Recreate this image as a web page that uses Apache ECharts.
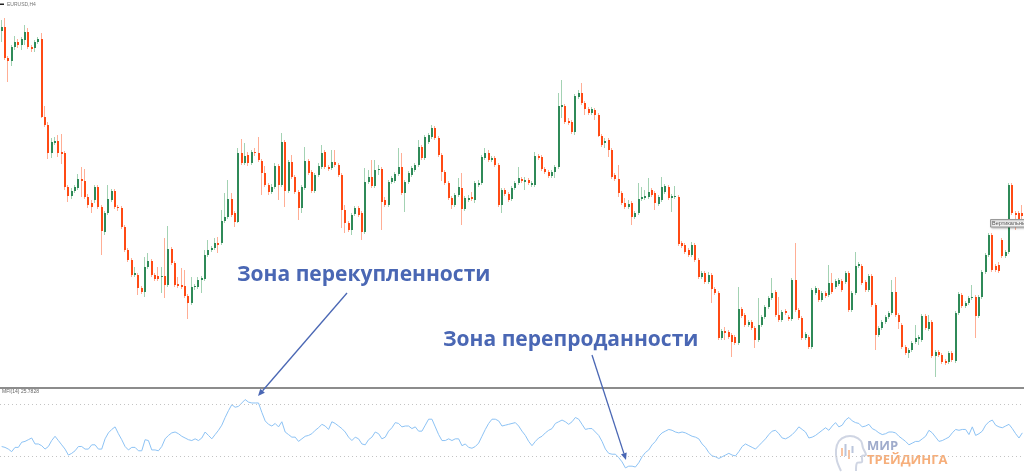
<!DOCTYPE html>
<html><head><meta charset="utf-8">
<script src="https://cdn.jsdelivr.net/npm/echarts@6/dist/echarts.min.js"></script>
<style>html,body{margin:0;padding:0;background:#fff}#c{width:1024px;height:473px}</style>
</head><body><div id="c"></div>
<script>
// EURUSD H4 candles: [open, close, low, high] (price points)
const candles = [
[359,363,348,370],[363,332,330,372],[332,329,308,334],[329,343,324,345],[343,348,340,354],[348,345,342,351],[345,351,340,353],[350,358,345,365],[358,343,341,362],[343,341,338,345],
[342,348,338,350],[348,351,346,353],[351,273,272,357],[273,265,263,284],[265,237,231,268],[237,248,232,252],[247,249,245,253],[249,237,233,255],[238,236,226,256],[237,203,200,239],
[203,194,188,205],[194,199,191,202],[199,203,197,205],[202,211,200,216],[211,209,193,223],[209,193,191,221],[193,185,182,196],[187,183,177,190],[190,203,187,205],[203,183,181,205],
[183,159,135,185],[158,177,155,179],[177,191,175,205],[190,199,188,201],[199,183,181,201],[183,182,179,185],[182,163,161,184],[163,140,138,165],[140,130,128,142],[130,115,113,132],
[115,117,113,123],[115,102,95,117],[102,98,96,104],[98,123,93,133],[123,129,121,137],[129,115,113,131],[115,111,109,117],[114,111,109,123],[113,114,97,123],[114,105,92,152],
[105,141,103,164],[141,127,125,143],[127,105,103,129],[106,104,102,113],[105,103,101,122],[104,94,92,120],[94,87,71,96],[87,103,85,113],[103,104,100,106],[103,110,101,113],
[110,112,97,114],[111,135,109,140],[135,140,133,150],[140,142,138,144],[142,147,140,152],[147,145,137,153],[147,169,145,180],[169,173,167,197],[173,191,171,210],[191,175,173,197],
[177,168,163,179],[168,237,167,242],[237,227,225,251],[227,234,225,247],[235,227,224,238],[227,238,225,240],[238,237,234,242],[237,230,228,253],[229,217,195,231],[217,205,203,224],
[205,198,195,207],[198,203,196,206],[203,224,201,227],[224,205,190,226],[205,248,203,257],[248,199,183,250],[199,228,197,230],[228,213,211,235],[213,198,196,215],[198,182,170,200],
[182,203,177,205],[202,229,200,243],[229,217,215,231],[218,199,197,220],[199,215,197,217],[215,224,213,227],[223,237,221,245],[238,223,221,240],[223,221,219,225],[222,228,220,240],
[228,225,223,240],[225,215,213,227],[215,180,162,217],[180,167,157,185],[167,160,158,169],[160,175,155,177],[176,182,174,184],[182,175,173,184],[177,158,150,179],[158,208,156,222],
[208,213,206,220],[213,204,202,230],[204,220,202,230],[220,221,215,225],[221,188,160,223],[190,185,183,193],[185,208,183,210],[208,212,206,214],[209,216,207,218],[216,223,214,242],
[223,197,195,237],[197,208,178,210],[208,217,206,219],[215,222,213,224],[220,225,218,227],[225,243,223,250],[243,232,230,245],[232,253,230,255],[248,255,246,257],[253,262,251,265],
[262,252,250,264],[252,235,233,254],[235,218,209,237],[218,207,205,220],[207,192,190,209],[192,185,181,194],[185,195,183,197],[195,203,193,212],[202,181,165,217],[181,192,179,194],
[190,192,188,195],[193,191,189,198],[190,207,187,209],[205,207,203,210],[207,233,205,235],[232,237,230,242],[237,230,228,240],[230,232,228,234],[232,225,223,234],[225,185,183,227],
[185,200,177,202],[200,196,194,202],[196,190,188,198],[191,202,189,204],[202,207,200,209],[207,212,205,223],[211,209,207,213],[208,210,200,213],[210,207,205,212],[205,207,203,209],
[205,234,203,238],[234,232,230,236],[233,221,219,235],[221,218,216,223],[218,214,212,220],[214,218,212,220],[218,223,212,225],[223,284,221,297],[283,285,272,310],[284,268,266,286],
[269,267,265,272],[268,258,256,270],[258,294,255,296],[293,297,291,300],[297,287,285,307],[287,281,275,289],[281,277,275,283],[277,281,275,283],[280,275,270,282],[275,254,253,277],
[254,245,243,256],[247,249,242,252],[250,240,233,252],[240,213,211,242],[215,211,209,217],[211,197,193,225],[197,187,185,199],[187,183,181,192],[183,186,181,190],[187,173,165,189],
[173,177,171,179],[177,191,175,207],[191,193,189,203],[192,194,190,200],[193,198,191,212],[200,195,193,202],[197,187,180,199],[186,193,184,195],[190,203,188,213],[198,204,196,206],
[203,192,190,205],[192,194,178,196],[193,194,191,204],[193,146,144,195],[147,144,142,149],[145,138,136,147],[140,135,133,142],[135,145,133,148],[145,130,128,147],[130,113,111,132],
[113,117,111,119],[117,108,106,119],[108,115,106,118],[115,101,87,117],[101,97,95,103],[97,52,50,99],[52,59,50,61],[59,57,50,63],[58,53,51,60],[55,48,33,57],
[53,47,45,55],[47,81,45,103],[81,74,72,83],[75,65,63,77],[65,68,63,70],[68,62,60,70],[62,50,42,64],[50,65,48,92],[65,73,63,75],[73,83,71,85],
[83,92,81,94],[92,97,90,112],[98,75,73,100],[75,70,68,93],[70,78,68,80],[79,77,75,81],[73,71,69,75],[71,110,69,112],[110,80,78,147],[80,72,70,82],
[72,52,50,74],[52,56,50,58],[53,43,41,55],[43,100,41,102],[97,102,95,104],[100,90,88,102],[90,97,88,99],[97,94,92,99],[95,107,93,125],[107,98,96,117],
[103,109,101,111],[106,110,104,112],[109,100,98,111],[108,117,106,119],[117,80,78,119],[80,97,78,99],[97,124,95,138],[124,126,122,128],[124,107,105,126],[108,100,98,110],
[100,114,98,116],[114,85,83,116],[85,55,40,87],[55,62,53,64],[62,68,60,70],[68,73,66,75],[73,77,71,79],[77,98,75,110],[98,75,73,113],[75,68,61,77],
[65,43,41,67],[43,37,35,45],[37,40,32,42],[40,47,38,49],[48,52,46,65],[51,53,45,55],[50,74,48,76],[74,62,60,76],[61,68,59,75],[68,34,32,70],
[34,38,13,40],[38,35,33,40],[35,28,26,37],[29,27,25,31],[28,37,26,39],[37,30,28,39],[29,77,27,79],[77,96,75,98],[95,84,82,97],[84,87,82,89],
[87,92,85,94],[92,93,90,105],[93,74,52,95],[74,93,72,95],[93,118,91,120],[118,135,116,137],[135,155,133,157],[155,120,118,157],[124,120,118,126],[125,119,117,128],
[150,134,132,152],[134,138,132,140],[138,205,136,207],[205,177,175,207],[177,175,160,179],[177,170,168,179],[177,174,165,185]
];

// Money Flow Index (14), one value per candle
const mfi = [
31,30,28,25,30,30,36,37,39,41, 34,34,32,28,31,38,43,38,33,28,
21,23,26,31,31,28,28,33,33,28, 28,40,47,51,54,46,39,31,27,30,
30,26,26,39,38,27,27,26,31,40, 44,47,48,46,43,41,39,38,40,38,
41,48,44,40,45,50,56,65,73,80, 77,78,82,86,83,82,82,82,71,61,
57,55,58,54,60,48,45,42,42,37, 40,43,44,46,50,53,57,55,51,60,
58,55,52,48,42,38,42,40,34,33, 39,42,48,46,40,42,49,53,59,58,
54,55,55,52,54,49,49,56,63,63, 54,45,38,38,40,38,40,40,32,34,
30,29,31,35,43,51,58,63,63,61, 55,56,57,58,59,55,49,44,37,32,
37,41,43,47,50,52,58,60,62,60, 57,60,65,63,57,51,52,52,48,44,
37,28,23,22,22,18,13,6,8,8, 7,12,19,24,27,33,37,43,47,49,
51,50,48,47,48,47,45,43,42,40, 34,30,24,20,19,17,19,21,23,21,
20,25,31,34,32,30,28,32,36,40, 45,49,50,46,41,40,42,45,49,54,
51,48,41,42,44,47,50,53,50,55, 59,54,56,62,65,61,59,58,54,55,
57,52,50,47,45,46,48,48,47,43, 40,37,33,35,37,37,40,43,50,47,
42,37,38,40,42,47,51,50,51,51, 45,54,44,46,49,56,60,62,56,54,
53,55,57,52,46,41,47
];
const mfiLevels = [80, 20];

const symbolLabel = 'EURUSD,H4';
const mfiLabel = 'MFI(14) 25.7828';
const noteOverbought = 'Зона перекупленности';
const noteOversold = 'Зона перепроданности';
const hintLabel = 'Вертикальный';
const logoTop = 'МИР';
const logoBottom = 'ТРЕЙДИНГА';

const categories = candles.map((_, i) => 'bar ' + (i + 1));
const candleData = candles.map((c, i) => [i, c[0], c[1], c[2], c[3]]);

const UP = '#2f8a58', DOWN = '#ff4a14', UP_WICK = '#a3d2b3', DOWN_WICK = '#ffae95';
const NOTE = '#4a67b4';

function renderCandle(params, api) {
  const i = api.value(0);
  const o = api.value(1), c = api.value(2), lo = api.value(3), hi = api.value(4);
  const pO = api.coord([i, o]), pC = api.coord([i, c]);
  const pL = api.coord([i, lo]), pH = api.coord([i, hi]);
  const up = c >= o;
  const cx = Math.round(pO[0]);
  const top = Math.round(Math.min(pO[1], pC[1]));
  const bot = Math.round(Math.max(pO[1], pC[1]));
  const wt = Math.round(pH[1]), wb = Math.round(pL[1]);
  return {type: 'group', children: [
    {type: 'rect', shape: {x: cx - 1, y: wt, width: 1, height: Math.max(1, wb - wt)},
     style: {fill: up ? UP_WICK : DOWN_WICK}},
    {type: 'rect', shape: {x: cx - 1, y: top, width: 2, height: Math.max(1, bot - top)},
     style: {fill: up ? UP : DOWN}}
  ]};
}

function arrow(x1, y1, x2, y2) {
  const dx = x2 - x1, dy = y2 - y1, len = Math.sqrt(dx * dx + dy * dy);
  const ux = dx / len, uy = dy / len, nx = -uy, ny = ux;
  const hl = 7, hw = 3;
  const bx = x2 - ux * hl, by = y2 - uy * hl;
  return [
    {type: 'line', shape: {x1: x1, y1: y1, x2: bx, y2: by}, style: {stroke: NOTE, lineWidth: 1.3}, z: 20},
    {type: 'polygon', shape: {points: [[x2, y2], [bx + nx * hw, by + ny * hw], [bx - nx * hw, by - ny * hw]]},
     style: {fill: NOTE}, z: 20}
  ];
}

const chart = echarts.init(document.getElementById('c'), null, {renderer: 'canvas'});
chart.setOption({
  animation: false,
  backgroundColor: '#ffffff',
  grid: [
    {left: 0, right: 0, top: 0, height: 386},
    {left: 0, right: 0, top: 387.6, height: 87.1}
  ],
  xAxis: [
    {type: 'category', data: categories, gridIndex: 0, boundaryGap: true, show: false},
    {type: 'category', data: categories, gridIndex: 1, boundaryGap: true, show: false}
  ],
  yAxis: [
    {type: 'value', gridIndex: 0, min: 4, max: 390, show: false, splitLine: {show: false}},
    {type: 'value', gridIndex: 1, min: 0, max: 100, show: false, splitLine: {show: false}}
  ],
  series: [
    {type: 'custom', name: 'EURUSD', xAxisIndex: 0, yAxisIndex: 0, data: candleData,
     encode: {x: 0, y: [1, 2, 3, 4]}, renderItem: renderCandle, clip: true},
    {type: 'line', name: 'MFI(14)', xAxisIndex: 1, yAxisIndex: 1, data: mfi,
     showSymbol: false, symbol: 'none', smooth: false,
     lineStyle: {color: '#8dc3f5', width: 1},
     markLine: {silent: true, symbol: ['none', 'none'], label: {show: false},
       lineStyle: {type: [1, 3], color: '#c4c4c4', width: 1},
       data: mfiLevels.map(v => ({yAxis: v}))}}
  ],
  graphic: [
    {type: 'line', shape: {x1: 0, y1: 388, x2: 1024, y2: 388}, style: {stroke: '#666666', lineWidth: 1.6}, z: 10},
    {type: 'rect', shape: {x: 0, y: 3.5, width: 4, height: 1.5}, style: {fill: '#222'}, z: 10},
    {type: 'text', style: {text: symbolLabel, x: 7, y: 4.5, fill: '#777', font: '5px "Liberation Sans", sans-serif', textVerticalAlign: 'middle'}, z: 10},
    {type: 'text', style: {text: mfiLabel, x: 2, y: 392, fill: '#666', font: '5px "Liberation Sans", sans-serif', textVerticalAlign: 'middle'}, z: 10},
    {type: 'text', style: {text: noteOverbought, x: 237, y: 275, fill: NOTE, font: 'bold 21px "Open Sans", sans-serif', textVerticalAlign: 'middle'}, z: 20},
    {type: 'text', style: {text: noteOversold, x: 443, y: 340, fill: NOTE, font: 'bold 21px "Open Sans", sans-serif', textVerticalAlign: 'middle'}, z: 20},
    ...arrow(347, 293, 258, 396),
    ...arrow(592, 355, 626, 460),
    // MT4 object tooltip
    {type: 'rect', shape: {x: 990.5, y: 219.5, width: 40, height: 7.5}, style: {fill: '#f2f2f2', stroke: '#9a9a9a', lineWidth: 1, shadowBlur: 2, shadowColor: 'rgba(0,0,0,0.25)', shadowOffsetX: 1, shadowOffsetY: 1}, z: 15},
    {type: 'text', style: {text: hintLabel, x: 992, y: 223.3, fill: '#555', font: '5.5px "Liberation Sans", sans-serif', textVerticalAlign: 'middle'}, z: 16},
    // watermark logo
    {type: 'group', z: 30, children: [
      {type: 'polyline', shape: {points: [[841,471],[837,461],[836,450],[839,441],[846,436.5],[854,436.5],[861,441],[863,448],[866,455],[862,456],[862,462],[857,463],[856,471]], smooth: 0.3},
       style: {fill: 'none', stroke: '#c3cbdc', lineWidth: 2, opacity: 0.8}},
      {type: 'rect', shape: {x: 841, y: 448, width: 2, height: 8}, style: {fill: '#f7b48a', opacity: 0.8}},
      {type: 'rect', shape: {x: 844.5, y: 444, width: 2, height: 12}, style: {fill: '#a9b6d3', opacity: 0.8}},
      {type: 'rect', shape: {x: 848, y: 450, width: 2, height: 9}, style: {fill: '#f7b48a', opacity: 0.8}},
      {type: 'rect', shape: {x: 851.5, y: 446, width: 2, height: 7}, style: {fill: '#a9b6d3', opacity: 0.8}},
      {type: 'text', style: {text: logoTop, x: 867, y: 446.5, fill: '#8e9cc2', opacity: 0.85, font: 'bold 13px "Open Sans", sans-serif', textVerticalAlign: 'middle'}},
      {type: 'text', style: {text: logoBottom, x: 867, y: 460, fill: '#f5a56b', opacity: 0.9, font: 'bold 13px "Open Sans", sans-serif', textVerticalAlign: 'middle'}}
    ]}
  ]
});
</script>
</body></html>
